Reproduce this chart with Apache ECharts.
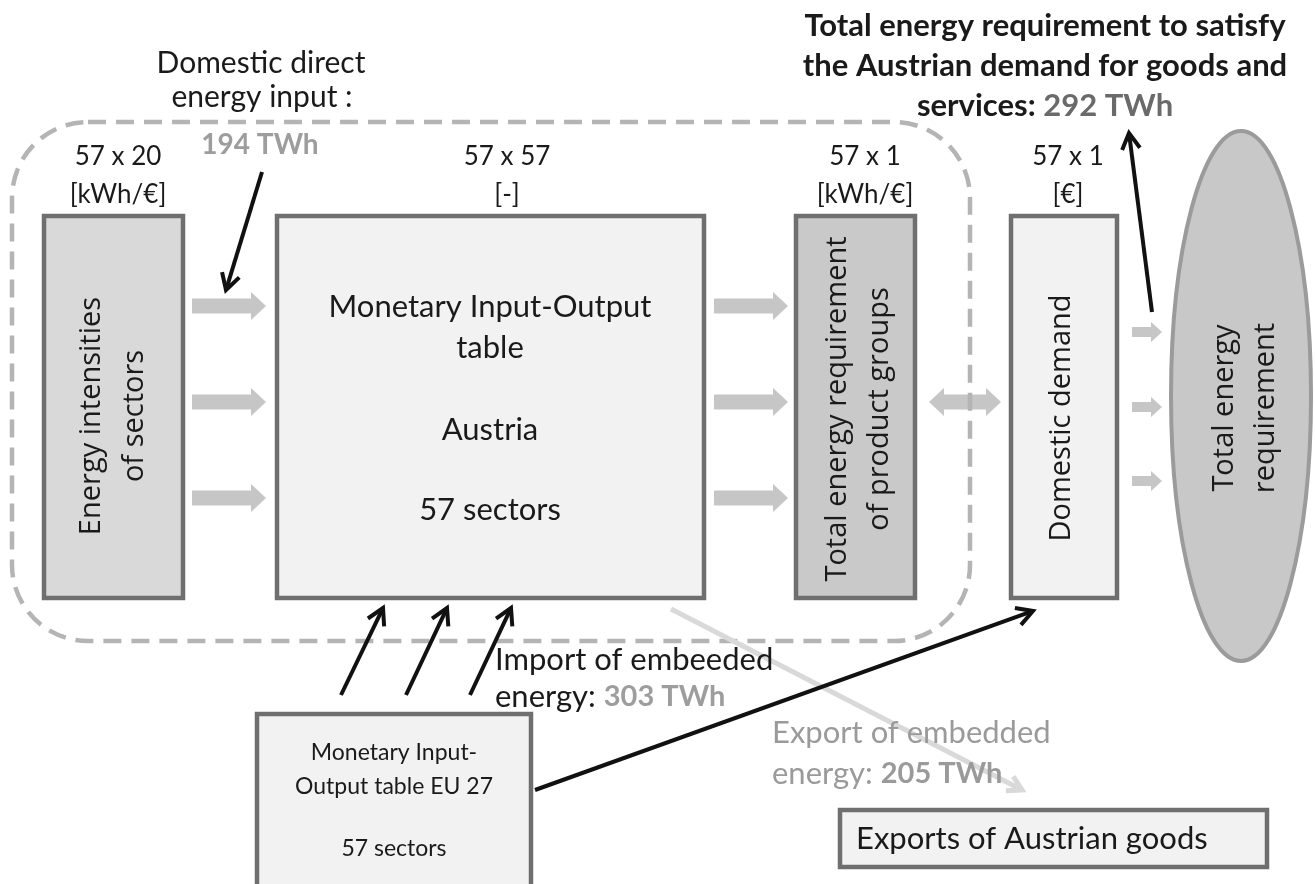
<!DOCTYPE html>
<html><head><meta charset="utf-8">
<script src="https://cdn.jsdelivr.net/npm/echarts@6.0.0/dist/echarts.min.js"></script>
<style>html,body{margin:0;padding:0;background:#fff}#c{width:1315px;height:884px}</style>
</head><body><div id="c"></div>
<script>
// ---- content (text and values) ----
const matrixSizes = ['57 x 20', '57 x 57', '57 x 1', '57 x 1'];
const matrixUnits = ['[kWh/€]', '[-]', '[kWh/€]', '[€]'];
const energyIntensityLabel = ['Energy intensities', 'of sectors'];
const ioTableLabel = ['Monetary Input-Output', 'table', 'Austria', '57 sectors'];
const totalReqLabel = ['Total energy requirement', 'of product groups'];
const demandLabel = ['Domestic demand'];
const resultLabel = ['Total energy', 'requirement'];
const euTableLabel = ['Monetary Input-', 'Output table EU 27', '57 sectors'];
const exportsLabel = ['Exports of Austrian goods'];
const domesticInputLines = ['Domestic direct', 'energy input :'];
const importLines = ['Import of embeeded', 'energy: '];
const exportLines = ['Export of embedded', 'energy: '];
const totalLines = ['Total energy requirement to satisfy', 'the Austrian demand for goods and', 'services: '];
const flowTWh = [194, 303, 205, 292];
const unit = 'TWh';

// ---- drawing helpers ----
const F1 = 'Lato, "Open Sans", sans-serif';
const F2 = '"Open Sans", Lato, sans-serif';
const BORDER = '#6f6f70';
const LIGHT = '#f2f2f2';
const els = [];
function rect(x, y, w, h, fill, z) {
  els.push({type: 'rect', z: z || 2, shape: {x, y, width: w, height: h},
    style: {fill, stroke: BORDER, lineWidth: 4.5}});
}
function text(x, y, str, size, o) {
  o = o || {};
  els.push({type: 'text', x, y, rotation: o.rot || 0, z: o.z || 10,
    style: {text: str, font: (o.weight || 'normal') + ' ' + size + 'px ' + (o.family || F1),
      fill: o.fill || '#1a1a1a', align: o.align || 'center', verticalAlign: 'middle',
      lineHeight: o.lh || size * 1.3, rich: o.rich}});
}
function blockArrow(x1, x2, y, sh, hh, hl, both, fill) {
  const p = both ? [[x1, y], [x1 + hl, y - hh], [x1 + hl, y - sh]] : [[x1, y - sh]];
  p.push([x2 - hl, y - sh], [x2 - hl, y - hh], [x2, y], [x2 - hl, y + hh], [x2 - hl, y + sh]);
  if (both) p.push([x1 + hl, y + sh], [x1 + hl, y + hh]); else p.push([x1, y + sh]);
  els.push({type: 'polygon', z: 3, shape: {points: p}, style: {fill: fill || '#c6c6c7'}});
}
function lineArrow(x1, y1, x2, y2, color, lw, hl, hw, z) {
  const dx = x2 - x1, dy = y2 - y1, L = Math.hypot(dx, dy);
  const ux = dx / L, uy = dy / L, nx = -uy, ny = ux;
  els.push({type: 'line', z: z || 6, shape: {x1, y1, x2: x2 - ux * 2, y2: y2 - uy * 2},
    style: {stroke: color, lineWidth: lw}});
  els.push({type: 'polyline', z: z || 6, shape: {points: [
      [x2 - ux * hl + nx * hw, y2 - uy * hl + ny * hw], [x2, y2],
      [x2 - ux * hl - nx * hw, y2 - uy * hl - ny * hw]]},
    style: {stroke: color, lineWidth: lw, fill: null, lineJoin: 'miter', lineCap: 'butt'}});
}

// dashed system boundary
els.push({type: 'rect', z: 4, shape: {x: 12, y: 122, width: 958, height: 519, r: 76},
  style: {fill: null, stroke: '#b4b4b5', lineWidth: 4.5, lineDash: [18, 10]}});

// boxes
rect(44, 216, 139, 382, '#d9d9da');
rect(277, 216, 427, 382, LIGHT);
rect(796, 216, 119, 382, '#c9c9ca');
rect(1011, 216, 106, 382, LIGHT);
rect(257, 714, 274, 190, LIGHT);
rect(840, 810, 427, 57, LIGHT);
els.push({type: 'ellipse', z: 2, shape: {cx: 1241, cy: 396, rx: 70, ry: 265},
  style: {fill: '#c8c8c9', stroke: '#9b9b9c', lineWidth: 4}});

// header dimension labels
const headerX = [118, 507, 865, 1068];
headerX.forEach((x, i) => {
  text(x, 157, matrixSizes[i], 26);
  text(x, 195, matrixUnits[i], 26);
});

// box texts
text(113, 416, energyIntensityLabel.join('\n'), 29, {rot: Math.PI / 2, family: F2, lh: 43});
[307, 348, 430, 510].forEach((y, i) => text(490, y, ioTableLabel[i], 31));
text(859, 409, totalReqLabel.join('\n'), 29, {rot: Math.PI / 2, family: F2, lh: 42});
text(1062, 418, demandLabel[0], 29, {rot: Math.PI / 2, family: F2});
text(1245, 408, resultLabel.join('\n'), 29, {rot: Math.PI / 2, family: F2, lh: 41});
[753, 787, 849].forEach((y, i) => text(394, y, euTableLabel[i], 23));
text(856, 839, exportsLabel[0], 31, {align: 'left'});

// grey block arrows
[306, 402, 498].forEach(y => {
  blockArrow(192, 266, y, 7.5, 14, 15);
  blockArrow(714, 788, y, 7.5, 14, 15);
});
blockArrow(929, 1001, 402, 7.5, 14, 15, true);
[332, 407, 481].forEach(y => blockArrow(1132, 1162, y, 5, 10, 11));

// export flow (light grey)
lineArrow(671, 609, 1022, 790, '#d9d9d9', 5, 14, 8, 5);

// flow annotations
text(261, 63, domesticInputLines[0], 30);
text(262, 97, domesticInputLines[1], 30);
text(260, 145, flowTWh[0] + ' ' + unit, 28, {weight: 'bold', fill: '#9d9d9e'});
text(1045, 26, totalLines[0], 31, {weight: 'bold'});
text(1045, 66, totalLines[1], 31, {weight: 'bold'});
text(1045, 106, '{a|' + totalLines[2] + '}{b|' + flowTWh[3] + ' ' + unit + '}', 31, {
  rich: {a: {font: 'bold 31px ' + F1, fill: '#1a1a1a'}, b: {font: 'bold 31px ' + F1, fill: '#6a6a6b'}}});
text(495, 660, importLines[0], 31, {align: 'left'});
text(495, 697, '{a|' + importLines[1] + '}{b|' + flowTWh[1] + ' ' + unit + '}', 31, {align: 'left',
  rich: {a: {font: '31px ' + F1, fill: '#1a1a1a'}, b: {font: 'bold 29px ' + F1, fill: '#9d9d9e'}}});
text(772, 733, exportLines[0], 31, {align: 'left', fill: '#9a9a9b'});
text(772, 774, '{a|' + exportLines[1] + '}{b|' + flowTWh[2] + ' ' + unit + '}', 31, {align: 'left',
  rich: {a: {font: '31px ' + F1, fill: '#9a9a9b'}, b: {font: 'bold 29px ' + F1, fill: '#9a9a9b'}}});

// black flow arrows
lineArrow(262, 172, 226, 290, '#111', 4, 16, 9);
lineArrow(1152, 312, 1129, 133, '#111', 4, 16, 9);
[341, 406, 470].forEach((x, i) => lineArrow(x, 695, [383, 447, 511][i], 608, '#111', 4, 16, 9));
lineArrow(535, 790, 1033, 611, '#111', 4, 16, 9, 11);

const chart = echarts.init(document.getElementById('c'), null, {renderer: 'canvas'});
chart.setOption({backgroundColor: '#ffffff', animation: false, graphic: {elements: els}});
</script></body></html>
